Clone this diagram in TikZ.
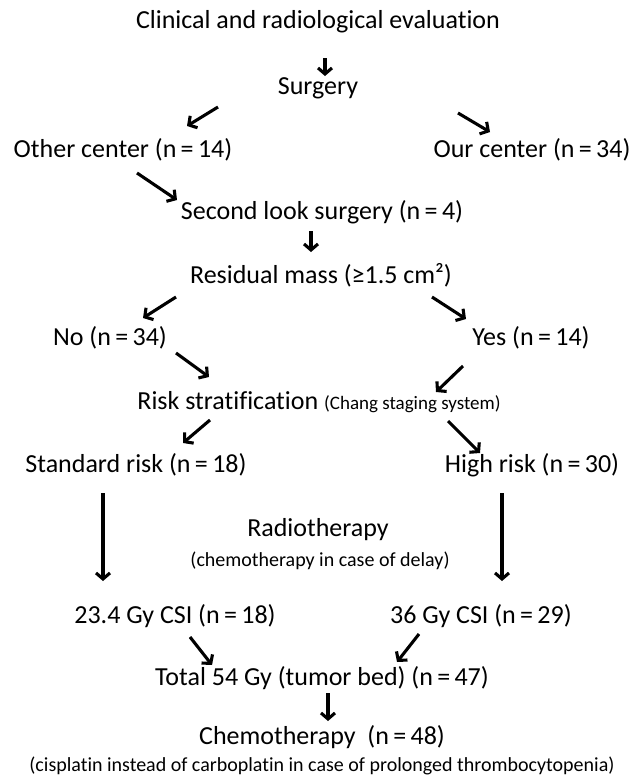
\documentclass[tikz,border=0pt]{standalone}
\usepackage{fontspec}
\setmainfont{Carlito}[Ligatures={NoCommon,NoContextual,NoRequired},Contextuals=NoAlternate]
\usepackage{tikz}
\usetikzlibrary{arrows.meta}

\begin{document}
\begin{tikzpicture}[x=1pt, y=-1pt, line width=3.1pt, >={Straight Barb[length=6pt,width=14pt]},
    every node/.style={inner sep=0pt, font=\fontsize{26}{30}\selectfont},
    note/.style={font=\fontsize{20}{24}\selectfont}]
    \useasboundingbox (0,0) rectangle (637,777);
    \node (eval) at (318,22) {Clinical and radiological evaluation};
    \node (surg) at (318,88) {Surgery};
    \node (other) at (123,150) {Other center (n\,=\,14)};
    \node (our) at (532,150) {Our center (n\,=\,34)};
    \node (second) at (322,212) {Second look surgery (n\,=\,4)};
    \node (resid) at (321,275) {Residual mass (≥1.5 cm²)};
    \node (no) at (110,338) {No (n\,=\,34)};
    \node (yes) at (531,338) {Yes (n\,=\,14)};
    \node (risk) at (319,402) {Risk stratification {\fontsize{19}{22}\selectfont(Chang staging system)}};
    \node (std) at (136,465) {Standard risk (n\,=\,18)};
    \node (high) at (532,465) {High risk (n\,=\,30)};
    \node (radio) at (318,530) {Radiotherapy};
    \node[note] (delay) at (320,561) {(chemotherapy in case of delay)};
    \node (low) at (175,616) {23.4 Gy CSI (n\,=\,18)};
    \node (full) at (481,616) {36 Gy CSI (n\,=\,29)};
    \node (total) at (322,678) {Total 54 Gy (tumor bed) (n\,=\,47)};
    \node (chemo) at (322,737) {Chemotherapy\ \ (n\,=\,48)};
    \node[note] (cispl) at (322,766) {(cisplatin instead of carboplatin in case of prolonged thrombocytopenia)};
    % arrow ends
    \coordinate (a1) at (325,58);   \coordinate (b1) at (325,76);
    \coordinate (a2) at (218,107);  \coordinate (b2) at (187,126);
    \coordinate (a3) at (458,113);  \coordinate (b3) at (490,132);
    \coordinate (a4) at (137,173);  \coordinate (b4) at (177,200);
    \coordinate (a5) at (311,231);  \coordinate (b5) at (311,252);
    \coordinate (a6) at (176,297);  \coordinate (b6) at (143,318);
    \coordinate (a7) at (432,297);  \coordinate (b7) at (466,319);
    \coordinate (a8) at (176,353);  \coordinate (b8) at (209,377);
    \coordinate (a9) at (463,366);  \coordinate (b9) at (436,392);
    \coordinate (a10) at (210,420); \coordinate (b10) at (183,443);
    \coordinate (a11) at (448,421); \coordinate (b11) at (480,453);
    \coordinate (a12) at (103,493); \coordinate (b12) at (103,581);
    \coordinate (a13) at (502,493); \coordinate (b13) at (502,581);
    \coordinate (a14) at (190,637); \coordinate (b14) at (212,665);
    \coordinate (a15) at (419,634); \coordinate (b15) at (397,662);
    \coordinate (a16) at (328,693); \coordinate (b16) at (328,721);
    \foreach \i in {1,...,16}
      \draw[->] (a\i) to (b\i);
\end{tikzpicture}
\end{document}
